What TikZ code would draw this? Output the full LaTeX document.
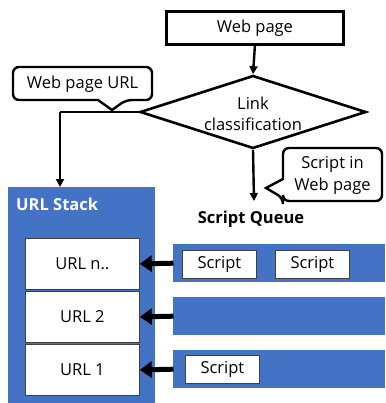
\documentclass[tikz,border=0pt]{standalone}
\usepackage{fontspec}
\setmainfont{Open Sans}
\usetikzlibrary{shapes.geometric,arrows.meta}
\definecolor{qblue}{HTML}{4472C4}
\definecolor{bordergray}{HTML}{404040}
\tikzset{
  conn/.style={draw=black,line width=2.4pt,-{Triangle[length=8pt,width=8pt]}},
  bigarrow/.style={draw=black,line width=5pt,-{Triangle[length=12pt,width=16pt]},shorten <=-0.5pt},
  basefont/.style={font=\fontsize{16.5}{18}\selectfont},
  whitebox/.style={draw=bordergray,line width=0.8pt,fill=white,inner sep=0pt,basefont},
  bluebar/.style={fill=qblue,draw=none,inner sep=0pt},
  callout/.style={draw=black,line width=2.4pt,fill=white,rounded corners=6pt},
  txt/.style={basefont,inner sep=0pt}
}
\begin{document}
\begin{tikzpicture}[x=1pt,y=-1pt]
\useasboundingbox (0,0) rectangle (385,403);
% Web page
\node[draw=black,line width=2.8pt,minimum width=177pt,minimum height=33pt,inner sep=0pt,anchor=north west] (web) at (165,10) {};
\node[txt] at (web.center) {Web page};
% Diamond
\node[diamond,draw=black,line width=2.6pt,minimum width=226pt,minimum height=73pt,inner sep=0pt,aspect=3.1,fill=white] (dia) at (253,112) {};
\node[txt,align=center,font=\fontsize{16.5}{21}\selectfont] (diatxt) at (253,114) {Link\\classification};
% URL stack
\node[bluebar,minimum width=147pt,minimum height=216pt,anchor=north west] (stack) at (8,187) {};
\node[anchor=west,text=white,font=\bfseries\fontsize{16.5}{18}\selectfont,inner sep=0pt] (stacklbl) at (16,204) {URL Stack};
\node[whitebox,minimum width=114pt,minimum height=51pt,anchor=north west] (urln) at (25,238) {URL n..};
\node[whitebox,minimum width=114pt,minimum height=51pt,anchor=north west] (url2) at (25,291) {URL 2};
\node[whitebox,minimum width=114pt,minimum height=51pt,anchor=north west] (url1) at (25,344) {URL 1};
% Script queue
\node[font=\bfseries\fontsize{16.5}{18}\selectfont,inner sep=0pt] (sqlbl) at (251,219) {Script Queue};
\node[bluebar,minimum width=212pt,minimum height=38pt,anchor=north west] (bar1) at (173,244) {};
\node[bluebar,minimum width=212pt,minimum height=38pt,anchor=north west] (bar2) at (173,297) {};
\node[bluebar,minimum width=212pt,minimum height=38pt,anchor=north west] (bar3) at (173,350) {};
\node[whitebox,minimum width=74pt,minimum height=28pt,anchor=north west] (s1) at (182,250) {Script};
\node[whitebox,minimum width=74pt,minimum height=28pt,anchor=north west] (s2) at (275,250) {Script};
\node[whitebox,minimum width=74pt,minimum height=28pt,anchor=north west] (s3) at (185,355) {Script};
% connectors
\draw[conn] (web.south) -- (dia.north);
\coordinate (bend) at (60,112);
\draw[conn,-] (dia.west) -- (bend);
\draw[conn] (bend) -- (stack.north -| bend);
\coordinate (qtop) at (254,201);
\draw[conn] (dia.south) -- (qtop);
\draw[bigarrow] (bar1.west) -- (urln.east);
\draw[bigarrow] (bar2.west) -- (url2.east);
\draw[bigarrow] (bar3.west) -- (url1.east);
% callouts
\draw[callout] (13,67) -- (152,67) -- (152,100) -- (126,100) [sharp corners]-- (112,110) -- (98,100) [rounded corners=6pt]-- (13,100) -- cycle;
\node[txt] (wurl) at (82.5,84) {Web page URL};
\draw[callout] (283,148) -- (382,148) -- (382,201) -- (283,201) -- (283,198) [sharp corners]-- (266,188) -- (283,179) [rounded corners=6pt]-- cycle;
\node[txt,align=center,font=\fontsize{16.5}{22}\selectfont] (sinw) at (332.5,175) {Script in\\Web page};
\end{tikzpicture}
\end{document}
